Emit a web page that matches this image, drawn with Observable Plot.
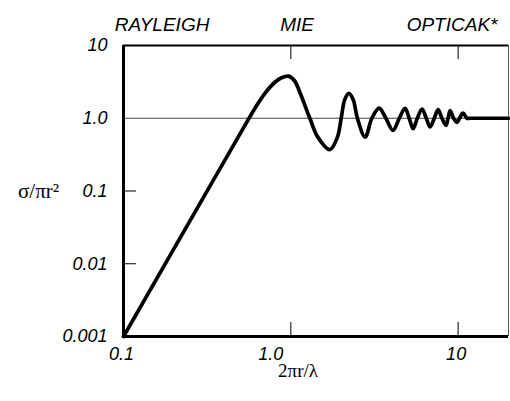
<!DOCTYPE html>
<html>
<head>
<meta charset="utf-8">
<script src="https://cdn.jsdelivr.net/npm/d3@7"></script>
<script src="https://cdn.jsdelivr.net/npm/@observablehq/plot@0.6"></script>
<style>
  html, body { margin: 0; padding: 0; background: #fff; }
</style>
</head>
<body>
<div id="chart"></div>
<script>
// size parameter 2πr/λ
const sizeParam = [0.1, 0.3, 0.5, 0.62, 0.7, 0.8, 0.88, 0.97, 1.05, 1.13, 1.3, 1.45, 1.71, 1.9, 2.0, 2.1, 2.22, 2.36, 2.5, 2.78,
  3.05, 3.37, 3.7, 4.08, 4.45, 4.82, 5.1, 5.38, 5.7, 6.09, 6.45, 6.8, 7.2, 7.59, 8.0, 8.47, 8.7, 8.96, 9.4, 9.86, 10.2, 10.7, 11.3, 11.8, 20];
// normalized cross section σ/πr²
const crossSection = [0.001, 0.081, 0.625, 1.45, 2.2, 3.1, 3.6, 3.8, 3.3, 2.3, 1.0, 0.55, 0.37, 0.55, 1.0, 1.8, 2.2, 1.8, 1.0, 0.55,
  1.0, 1.38, 1.0, 0.68, 1.0, 1.37, 1.0, 0.72, 1.0, 1.34, 1.0, 0.76, 1.0, 1.31, 1.0, 0.80, 1.0, 1.27, 1.0, 0.88, 1.0, 1.18, 1.0, 1.0, 1.0];

const xTicks = [0.1, 1, 10];
const xTickLabels = ["0.1", "1.0", "10"];
const yTicks = [10, 1, 0.1, 0.01, 0.001];
const yTickLabels = ["10", "1.0", "0.1", "0.01", "0.001"];
const xInnerTicks = [1, 10];
const yInnerTicks = [0.1, 0.01];
const regimeNames = ["RAYLEIGH", "MIE", "OPTICAK*"];
const regimeAt = [0.17, 1.09, 9.2];
const xDomain = [0.1, 20];
const yDomain = [0.001, 10];

const curve = sizeParam.map((x, i) => ({x, y: crossSection[i]}));
const regimes = regimeNames.map((name, i) => ({name, x: regimeAt[i]}));
const xLabel = d => xTickLabels[xTicks.indexOf(d)];

const sans = "'Liberation Sans', Arial, sans-serif";
const serif = "'Liberation Serif', 'Times New Roman', serif";
const tickFont = {fontSize: 18, fontStyle: "italic", fontFamily: sans};

const chart = Plot.plot({
  width: 510,
  height: 401,
  marginTop: 45,
  marginBottom: 65,
  marginLeft: 123,
  marginRight: 2,
  style: {background: "#fff", color: "#000", fontFamily: sans, overflow: "visible"},
  x: {type: "log", domain: xDomain},
  y: {type: "log", domain: yDomain},
  marks: [
    Plot.ruleY([1], {stroke: "#444", strokeWidth: 1}),
    // inward ticks
    Plot.axisX({anchor: "bottom", ticks: xInnerTicks, tickSize: -14, fill: "none", label: null, strokeWidth: 1}),
    Plot.axisX({anchor: "top", ticks: xInnerTicks, tickSize: -13, fill: "none", label: null, strokeWidth: 1}),
    Plot.axisY({anchor: "left", ticks: yInnerTicks, tickSize: -13, fill: "none", label: null, strokeWidth: 1}),
    // tick labels
    Plot.text(xTicks.filter(d => d !== 1), {x: d => d, text: xLabel, frameAnchor: "bottom", dy: 23, dx: -2, ...tickFont}),
    Plot.text(xTicks.filter(d => d === 1), {x: d => d, text: xLabel, frameAnchor: "bottom", dy: 23, dx: -20, ...tickFont}),
    Plot.text(yTicks, {y: d => d, text: d => yTickLabels[yTicks.indexOf(d)], frameAnchor: "left", dx: -16, textAnchor: "end", ...tickFont}),
    // frame
    Plot.ruleY([yDomain[1]], {stroke: "#000", strokeWidth: 2}),
    Plot.ruleX([xDomain[1]], {stroke: "#555", strokeWidth: 1}),
    Plot.ruleX([xDomain[0]], {stroke: "#000", strokeWidth: 3}),
    Plot.ruleY([yDomain[0]], {stroke: "#000", strokeWidth: 3}),
    // curve
    Plot.line(curve, {x: "x", y: "y", stroke: "#000", strokeWidth: 3.7, curve: "catmull-rom", strokeLinejoin: "round", strokeLinecap: "round"}),
    // regime labels
    Plot.text(regimes, {x: "x", text: "name", frameAnchor: "top", dy: -28, fontSize: 19, fontStyle: "italic", fontFamily: sans}),
    // axis titles
    Plot.text(["σ/πr²"], {frameAnchor: "left", textAnchor: "middle", dx: -85, fontSize: 21, fontFamily: serif}),
    Plot.text(["2πr/λ"], {frameAnchor: "bottom", dx: -18, dy: 40, fontSize: 19, fontFamily: serif})
  ]
});
document.getElementById("chart").appendChild(chart);
</script>
</body>
</html>
